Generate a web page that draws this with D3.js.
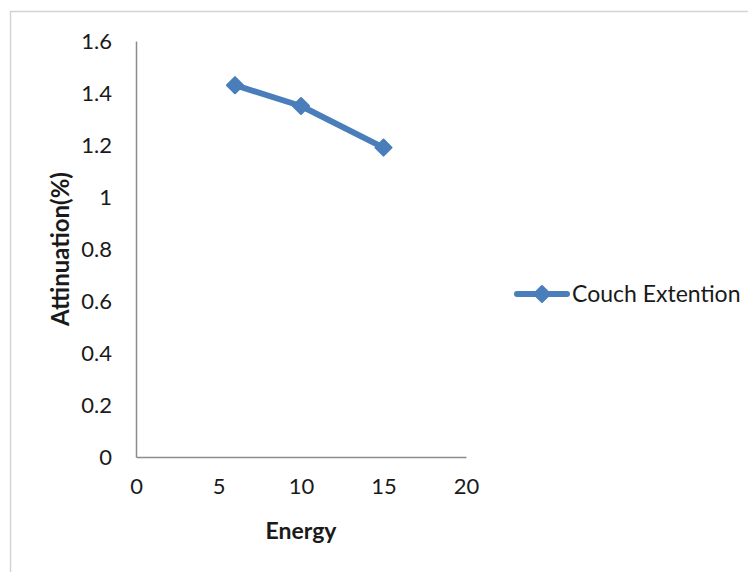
<!DOCTYPE html>
<html>
<head>
<meta charset="utf-8">
<script src="https://cdn.jsdelivr.net/npm/d3@7"></script>
<style>
  html, body { margin: 0; padding: 0; background: #fff; }
  svg text { font-family: Lato, "Open Sans", sans-serif; fill: #1a1a1a; }
</style>
</head>
<body>
<svg id="chart" width="748" height="572"></svg>
<script>
// Attenuation through the couch extension at each beam energy
const energies = [6, 10, 15];
const attenuation = [1.43, 1.35, 1.19];
const xTicks = [0, 5, 10, 15, 20];
const yTicks = [0, 0.2, 0.4, 0.6, 0.8, 1, 1.2, 1.4, 1.6];
const seriesName = "Couch Extention";
const xTitle = "Energy";
const yTitle = "Attinuation(%)";

const svg = d3.select("#chart");
const blue = "#4a7ebb";
const axisGrey = "#8c8c8c";
const font = "Lato, \"Open Sans\", sans-serif";

// chart frame
svg.append("rect")
  .attr("x", 10.5).attr("y", 11.5)
  .attr("width", 760).attr("height", 600)
  .attr("fill", "none").attr("stroke", "#d4d4d4").attr("stroke-width", 1.5);

const x = d3.scaleLinear().domain([0, 20]).range([136, 466]);
const y = d3.scaleLinear().domain([0, 1.6]).range([457, 41]);

// axes without tick marks
const xAxis = svg.append("g").attr("transform", `translate(0,${y(0)})`)
  .call(d3.axisBottom(x).tickValues(xTicks).tickSize(0).tickPadding(24).tickFormat(d3.format("d")));
const yAxis = svg.append("g").attr("transform", `translate(${x(0)},0)`)
  .call(d3.axisLeft(y).tickValues(yTicks).tickSize(0).tickPadding(24).tickFormat(d => String(d)));

[xAxis, yAxis].forEach(g => {
  g.select(".domain").attr("stroke", axisGrey).attr("stroke-width", 1.5);
  g.selectAll("text").attr("font-size", 22).attr("fill", "#1a1a1a")
    .style("font-family", font);
});
xAxis.selectAll("text").attr("dy", "0.6em");

// axis titles
svg.append("text")
  .attr("x", x(10)).attr("y", 539)
  .attr("text-anchor", "middle")
  .attr("font-size", 23).attr("font-weight", "bold")
  .text(xTitle);
svg.append("text")
  .attr("transform", `translate(69,${y(0.8)}) rotate(-90)`)
  .attr("text-anchor", "middle")
  .attr("font-size", 24).attr("font-weight", "bold")
  .text(yTitle);

// data line and diamond markers
const pts = energies.map((e, i) => [e, attenuation[i]]);
const line = d3.line().x(d => x(d[0])).y(d => y(d[1]));
svg.append("path")
  .datum(pts)
  .attr("d", line)
  .attr("fill", "none").attr("stroke", blue)
  .attr("stroke-width", 6).attr("stroke-linejoin", "round").attr("stroke-linecap", "round");

const diamond = d3.symbol().type(d3.symbolSquare).size(130);
svg.selectAll(".marker").data(pts).join("path")
  .attr("class", "marker")
  .attr("transform", d => `translate(${x(d[0])},${y(d[1])}) rotate(45)`)
  .attr("d", diamond)
  .attr("fill", blue)
  .attr("stroke", blue).attr("stroke-width", 2).attr("stroke-linejoin", "round");

// legend
const lg = svg.append("g").attr("transform", "translate(515,294)");
lg.append("line").attr("x1", 2).attr("x2", 52).attr("y1", 0).attr("y2", 0)
  .attr("stroke", blue).attr("stroke-width", 6).attr("stroke-linecap", "round");
lg.append("path").attr("transform", "translate(27,0) rotate(45)").attr("d", diamond)
  .attr("fill", blue).attr("stroke", blue).attr("stroke-width", 2).attr("stroke-linejoin", "round");
lg.append("text").attr("x", 57).attr("y", 0).attr("dy", "0.35em")
  .attr("font-size", 23).text(seriesName);
</script>
</body>
</html>
